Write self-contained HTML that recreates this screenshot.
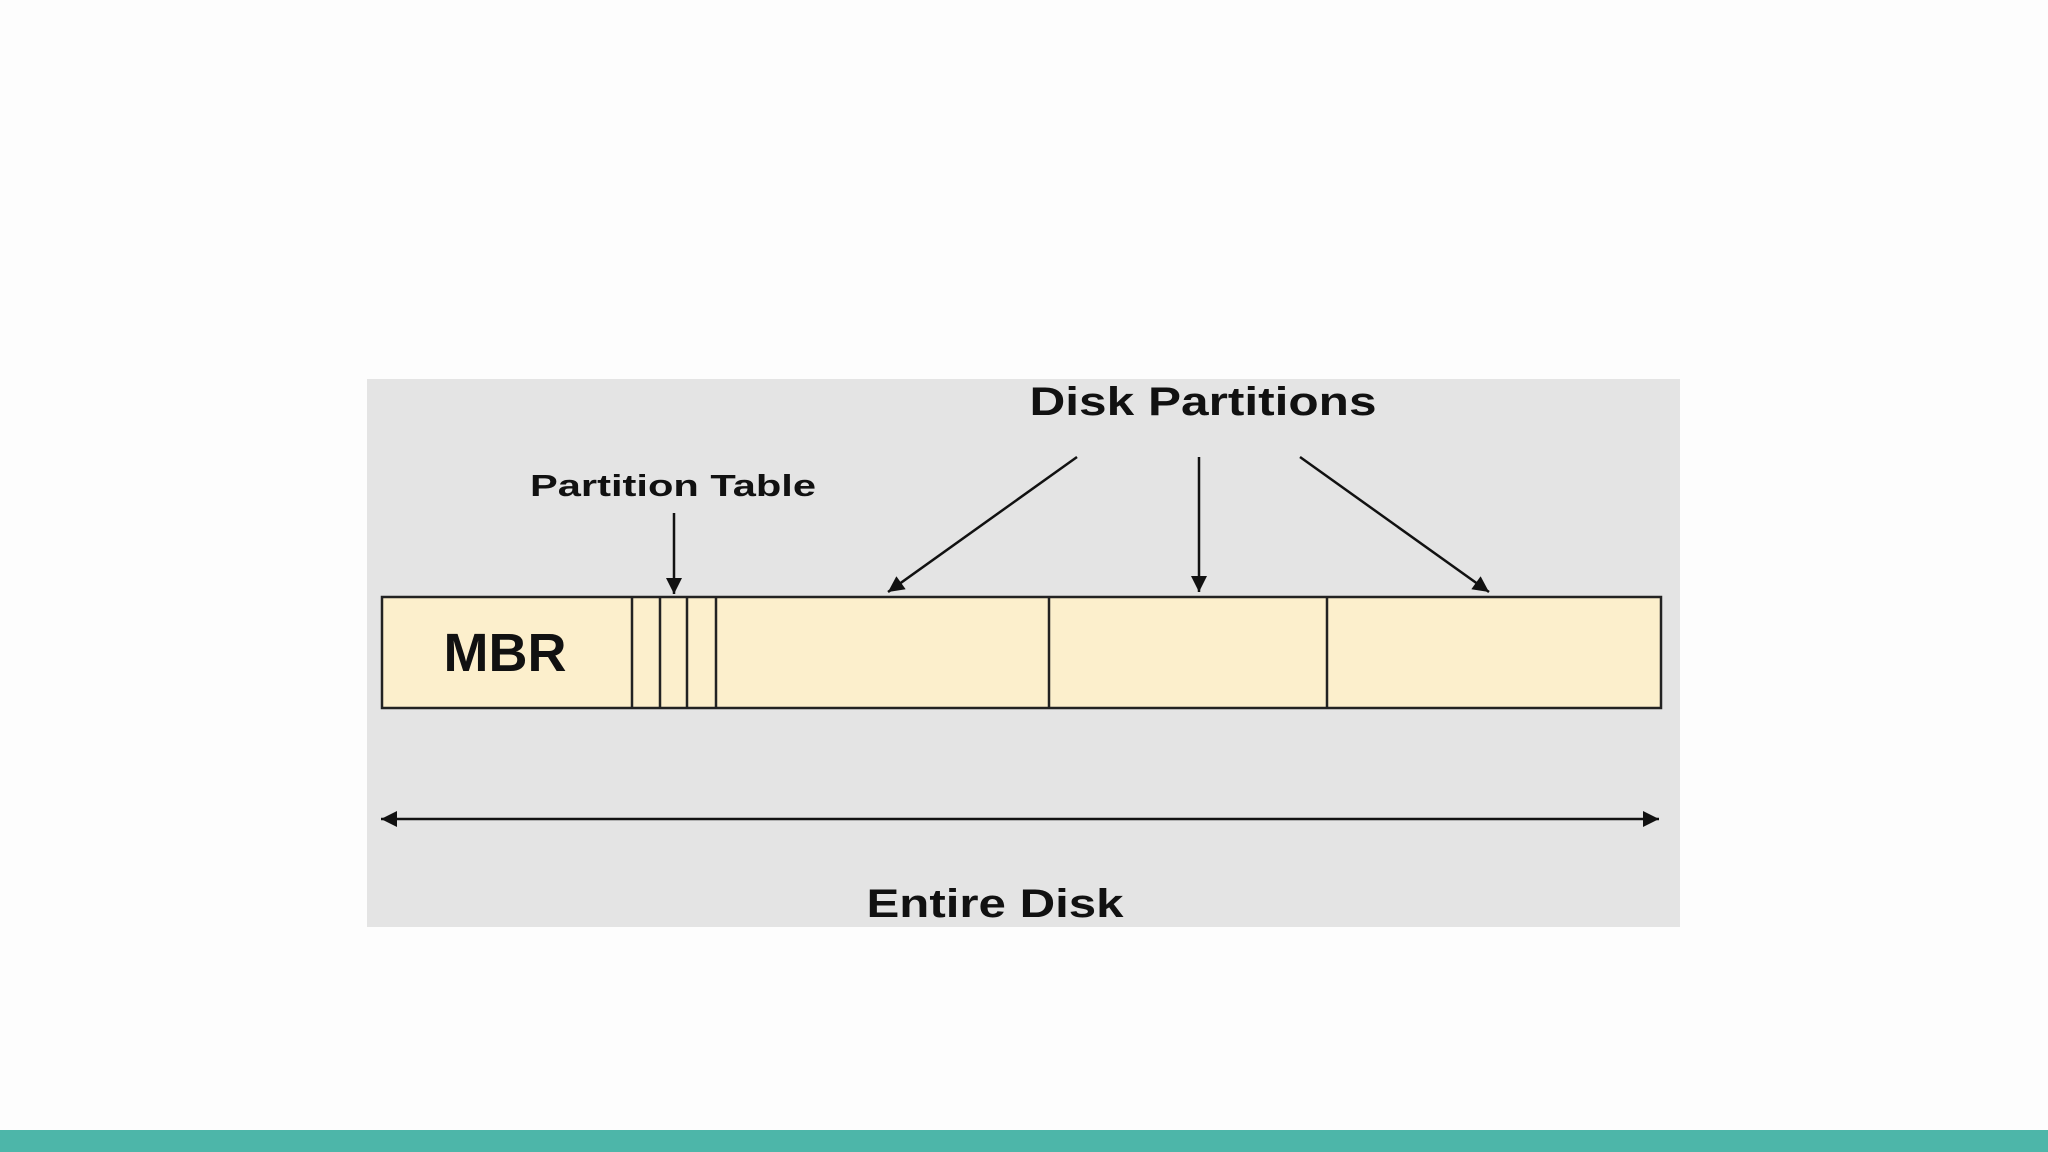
<!DOCTYPE html>
<html><head><style>
body{margin:0;width:2048px;height:1152px;background:#fdfdfd;overflow:hidden;position:relative;font-family:"Liberation Sans",sans-serif}
</style></head><body>
<svg width="2048" height="1152" style="position:absolute;left:0;top:0">
<defs>
<marker id="b" viewBox="0 0 10 10" markerWidth="18" markerHeight="16" refX="10" refY="5" orient="auto-start-reverse" markerUnits="userSpaceOnUse"><path d="M0,0 L10,5 L0,10 z" fill="#111"/></marker></defs>
<rect x="367" y="379" width="1313" height="548" fill="#e4e4e4"/>
<rect x="0" y="1130" width="2048" height="22" fill="#4db6a9"/>
<rect x="382" y="597" width="1279" height="111" fill="#fcefcc" stroke="#222" stroke-width="2.5"/>
<g stroke="#222" stroke-width="2.5">
<line x1="632" y1="597" x2="632" y2="708"/><line x1="660" y1="597" x2="660" y2="708"/>
<line x1="687" y1="597" x2="687" y2="708"/><line x1="716" y1="597" x2="716" y2="708"/>
<line x1="1049" y1="597" x2="1049" y2="708"/><line x1="1327" y1="597" x2="1327" y2="708"/>
</g>
<g stroke="#111" stroke-width="2.5" marker-end="url(#b)">
<line x1="674" y1="513" x2="674" y2="594"/>
<line x1="1077" y1="457" x2="888" y2="592"/>
<line x1="1199" y1="457" x2="1199" y2="592"/>
<line x1="1300" y1="457" x2="1489" y2="592"/>
<line x1="381" y1="819" x2="1659" y2="819" marker-start="url(#b)"/>
</g>
<g font-family="Liberation Sans, sans-serif" font-weight="bold" fill="#111" text-anchor="middle">
<text x="505" y="671" font-size="54">MBR</text>
<text x="673" y="496" font-size="31" textLength="286" lengthAdjust="spacingAndGlyphs">Partition Table</text>
<text x="1203" y="415" font-size="40" textLength="347" lengthAdjust="spacingAndGlyphs">Disk Partitions</text>
<text x="995" y="917" font-size="40" textLength="257" lengthAdjust="spacingAndGlyphs">Entire Disk</text>
</g>
</svg>
</body></html>
